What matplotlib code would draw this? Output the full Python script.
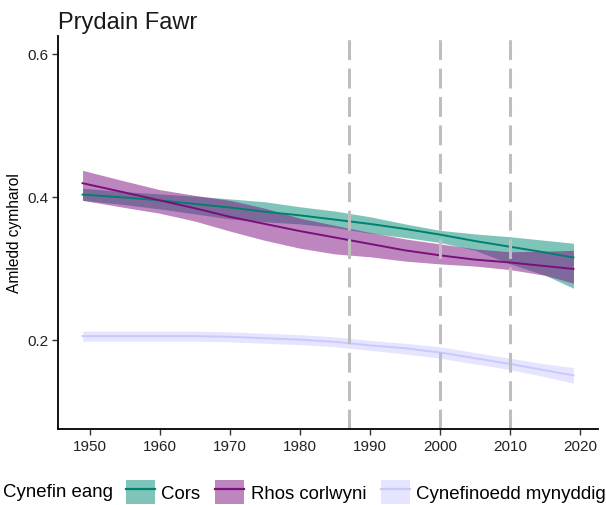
import matplotlib
matplotlib.use('Agg')
import matplotlib.pyplot as plt
from matplotlib.lines import Line2D
from matplotlib.patches import Patch


YEARS = [1949, 1955, 1960, 1965, 1970, 1975, 1980, 1985,
         1990, 1995, 2000, 2005, 2010, 2015, 2019]

CORS_MID = [0.403, 0.399, 0.395, 0.390, 0.385, 0.379, 0.374, 0.368,
            0.362, 0.355, 0.347, 0.338, 0.330, 0.322, 0.315]
CORS_LOW = [0.395, 0.389, 0.383, 0.376, 0.369, 0.365, 0.362, 0.357,
            0.349, 0.343, 0.336, 0.325, 0.306, 0.290, 0.272]
CORS_HIGH = [0.412, 0.407, 0.404, 0.401, 0.397, 0.393, 0.386, 0.380,
             0.372, 0.362, 0.353, 0.348, 0.344, 0.339, 0.335]

RHOS_MID = [0.419, 0.406, 0.395, 0.384, 0.372, 0.362, 0.352, 0.343,
            0.334, 0.325, 0.318, 0.312, 0.308, 0.303, 0.299]
RHOS_LOW = [0.395, 0.385, 0.377, 0.366, 0.352, 0.339, 0.328, 0.320,
            0.316, 0.310, 0.306, 0.303, 0.298, 0.290, 0.279]
RHOS_HIGH = [0.437, 0.422, 0.410, 0.402, 0.395, 0.384, 0.370, 0.360,
             0.350, 0.341, 0.334, 0.327, 0.323, 0.324, 0.325]

MYN_MID = [0.205, 0.205, 0.205, 0.205, 0.204, 0.202, 0.200, 0.197,
           0.192, 0.188, 0.182, 0.174, 0.166, 0.157, 0.150]
MYN_LOW = [0.198, 0.198, 0.198, 0.198, 0.197, 0.195, 0.193, 0.190,
           0.185, 0.180, 0.174, 0.166, 0.158, 0.148, 0.139]
MYN_HIGH = [0.212, 0.212, 0.212, 0.212, 0.211, 0.209, 0.207, 0.204,
            0.199, 0.195, 0.190, 0.182, 0.174, 0.166, 0.161]

EVENT_YEARS = [1987, 2000, 2010]
X_TICKS = [1950, 1960, 1970, 1980, 1990, 2000, 2010, 2020]
Y_TICKS = [0.2, 0.4, 0.6]

LABELS = ['Cors', 'Rhos corlwyni', 'Cynefinoedd mynyddig']
LINE_COLORS = ['#00806e', '#7a0f7c', '#c9c9fb']
FILL_COLORS = ['#008a72', '#7f0f81', '#cdcdff']


def main():
    plt.rcParams.update({
        'font.family': ['Liberation Sans', 'DejaVu Sans'],
        'font.size': 11,
    })
    fig = plt.figure(figsize=(6.06, 5.06), dpi=100)
    ax = fig.add_axes([58 / 606, 1 - 430 / 506, 540 / 606, 393 / 506])

    series = [(CORS_MID, CORS_LOW, CORS_HIGH),
              (RHOS_MID, RHOS_LOW, RHOS_HIGH),
              (MYN_MID, MYN_LOW, MYN_HIGH)]
    for (mid, low, high), lc, fc in zip(series, LINE_COLORS, FILL_COLORS):
        ax.fill_between(YEARS, low, high, color=fc, alpha=0.5, lw=0)
        ax.plot(YEARS, mid, color=lc, lw=1.4)

    for yr in EVENT_YEARS:
        ax.axvline(yr, color='#bebebe', lw=2.2, dashes=(6.5, 2.8))

    ax.set_xlim(1945.5, 2022.5)
    ax.set_ylim(0.075, 0.625)
    ax.set_xticks(X_TICKS)
    ax.set_yticks(Y_TICKS)
    ax.set_yticklabels([f'{v:.1f}' for v in Y_TICKS])
    for side in ['top', 'right']:
        ax.spines[side].set_visible(False)
    for side in ['left', 'bottom']:
        ax.spines[side].set_linewidth(1.3)
    ax.tick_params(length=4, width=1, colors='#333333', labelsize=11,
                   labelcolor='#222222', pad=3)
    ax.set_ylabel('Amledd cymharol', fontsize=11.2, labelpad=4)
    ax.set_title('Prydain Fawr', loc='left', fontsize=17, pad=6,
                 color='#1a1a1a')

    handles = [(Patch(facecolor=fc, alpha=0.5, lw=0), Line2D([], [], color=lc, lw=1.6))
               for lc, fc in zip(LINE_COLORS, FILL_COLORS)]
    fig.text(3 / 606, 1 - 493 / 506, 'Cynefin eang', fontsize=13.4,
             va='center', ha='left')
    fig.legend(handles, LABELS, loc='center left',
               bbox_to_anchor=(126 / 606, 1 - 493 / 506), ncol=3,
               frameon=False, fontsize=13.4, handlelength=1.55,
               handleheight=1.55, handletextpad=0.35, columnspacing=0.8,
               borderpad=0, borderaxespad=0)

    fig.savefig('out.png', dpi=100)


if __name__ == '__main__':
    main()
